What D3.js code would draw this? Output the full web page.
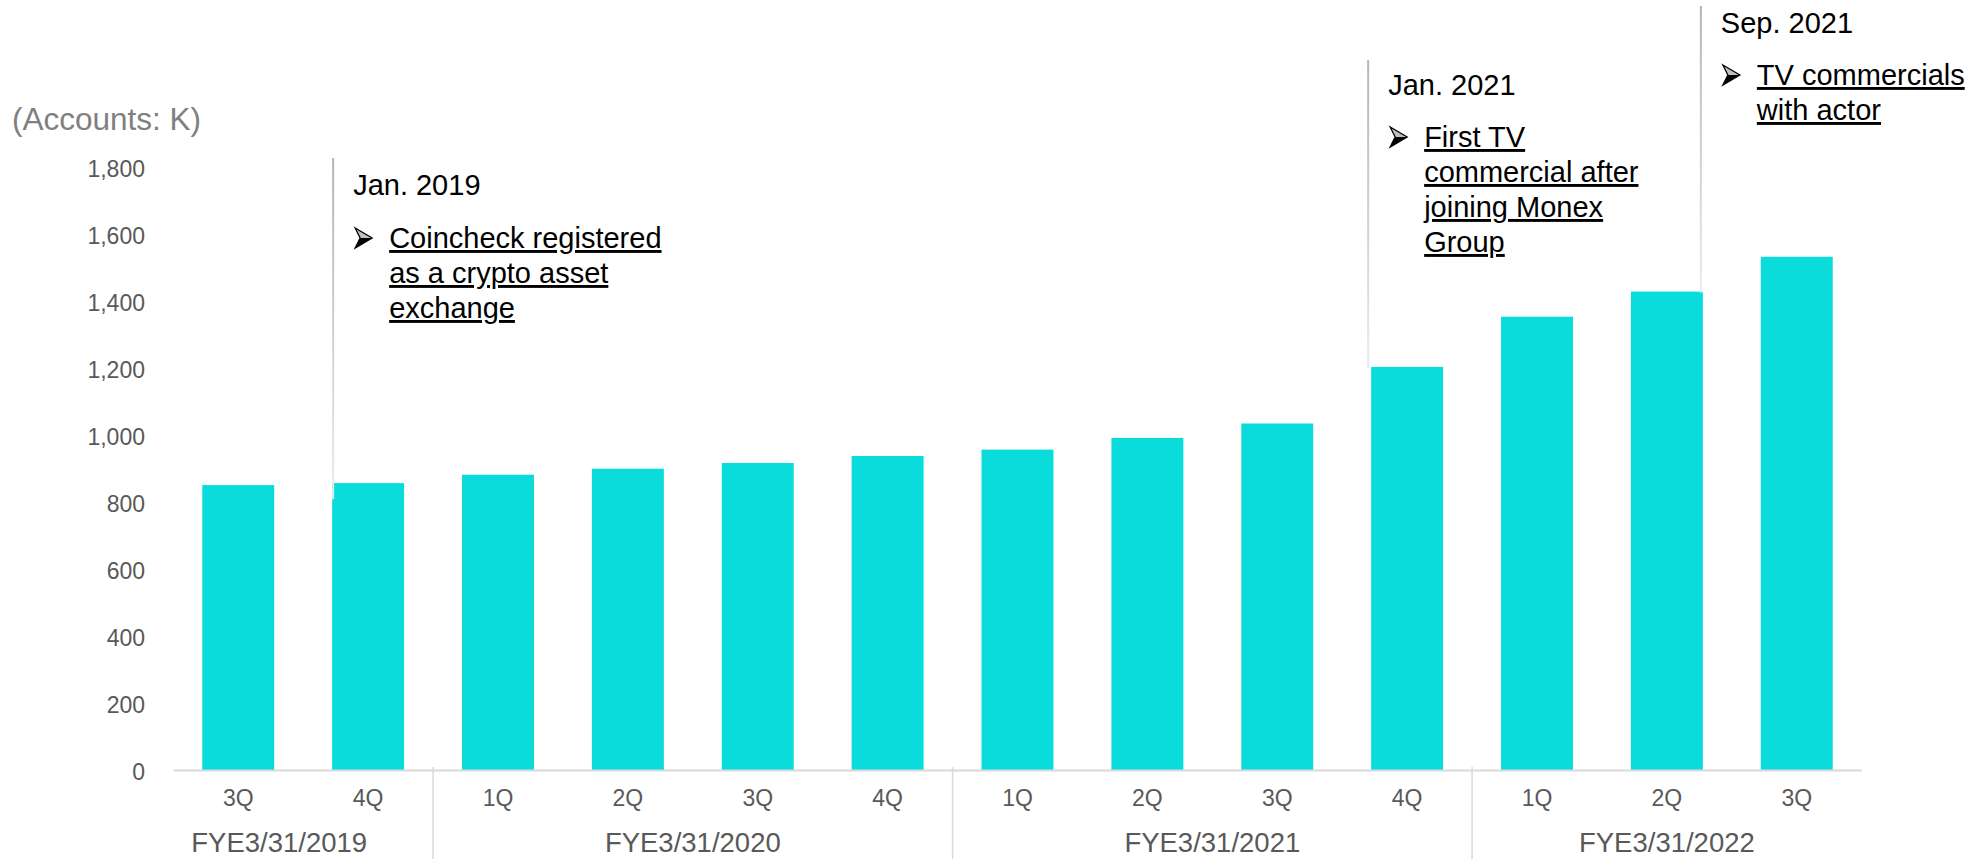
<!DOCTYPE html>
<html>
<head>
<meta charset="utf-8">
<script src="https://cdn.jsdelivr.net/npm/d3@7/dist/d3.min.js"></script>
<style>
  html, body { margin: 0; padding: 0; background: #ffffff; }
  svg { display: block; }
  text { font-family: "Liberation Sans", Arial, sans-serif; }
</style>
</head>
<body>
<svg id="chart" width="1980" height="859"></svg>
<script>
// ---------- data ----------
const categories = ["3Q","4Q","1Q","2Q","3Q","4Q","1Q","2Q","3Q","4Q","1Q","2Q","3Q"];
const accounts   = [851, 857, 882, 900, 917, 938, 957, 992, 1035, 1204, 1354, 1429, 1533];
const fiscalYears = ["FYE3/31/2019","FYE3/31/2020","FYE3/31/2021","FYE3/31/2022"];
const fiscalYearSizes = [2, 4, 4, 3];
const yTicks = [0, 200, 400, 600, 800, 1000, 1200, 1400, 1600, 1800];
const unitLabel = "(Accounts: K)";
const eventDates = ["Jan. 2019", "Jan. 2021", "Sep. 2021"];
const eventTexts = [
  ["Coincheck registered", "as a crypto asset", "exchange"],
  ["First TV", "commercial after", "joining Monex", "Group"],
  ["TV commercials", "with actor"]
];
const eventBar = [1, 9, 11];      // index of the quarter each event refers to

// ---------- layout ----------
const W = 1980, H = 859;
const x0 = 173.3, x1 = 1861.7, yBase = 770, yTop = 167.4;
const barColor = "#0adcdc";
const gray = "#595959";

const svg = d3.select("#chart");
const keys = categories.map((c, i) => i);

const x = d3.scaleBand().domain(keys).range([x0, x1])
  .paddingInner(0.446).paddingOuter(0.223);
const y = d3.scaleLinear().domain([0, 1800]).range([yBase, yTop]);

// gradient for annotation lines
const defs = svg.append("defs");
const grad = defs.append("linearGradient").attr("id", "lineGrad")
  .attr("x1", 0).attr("y1", 0).attr("x2", 0).attr("y2", 1);
grad.append("stop").attr("offset", "0%").attr("stop-color", "#b5b5b5");
grad.append("stop").attr("offset", "100%").attr("stop-color", "#e6ecf3");

// unit label
svg.append("text").attr("x", 12).attr("y", 130)
  .attr("font-size", 31.5).attr("fill", "#808080").text(unitLabel);

// y axis (labels only)
const yAxis = svg.append("g").attr("transform", `translate(145,0)`)
  .call(d3.axisLeft(y).tickValues(yTicks).tickFormat(d3.format(",")).tickSize(0).tickPadding(0));
yAxis.select(".domain").remove();
yAxis.selectAll("text").attr("font-size", 23).attr("fill", gray)
  .attr("dy", "0.4em").style("font-family", '"Liberation Sans", Arial, sans-serif');

// bars
svg.append("g").selectAll("rect").data(accounts).join("rect")
  .attr("x", (d, i) => x(i))
  .attr("y", d => y(d))
  .attr("width", x.bandwidth())
  .attr("height", d => y(0) - y(d))
  .attr("fill", barColor);

// x axis
const xAxis = svg.append("g").attr("transform", `translate(0,${yBase})`)
  .call(d3.axisBottom(x).tickFormat(i => categories[i]).tickSize(0).tickSizeOuter(0).tickPadding(20));
xAxis.select(".domain").attr("stroke", "#d9d9d9").attr("stroke-width", 2);
xAxis.selectAll("text").attr("font-size", 23).attr("fill", gray)
  .style("font-family", '"Liberation Sans", Arial, sans-serif');

// fiscal year groups
let start = 0;
const step = x.step();
fiscalYears.forEach((fy, g) => {
  const n = fiscalYearSizes[g];
  const gx0 = x0 + start * step;
  const gx1 = x0 + (start + n) * step;
  if (g > 0) {
    svg.append("line").attr("x1", gx0).attr("x2", gx0)
      .attr("y1", yBase - 3).attr("y2", H)
      .attr("stroke", "#d9d9d9").attr("stroke-width", 1.5);
  }
  const cx = (gx0 + gx1) / 2 + (g === 0 ? -24 : 0);
  svg.append("text").attr("x", cx).attr("y", 852)
    .attr("text-anchor", "middle").attr("font-size", 27.5).attr("fill", gray).text(fy);
  start += n;
});

// bullet arrowhead (3D style)
function bullet(g, bx, by) {
  // bx, by: left x, baseline y; approx 17 x 20 px
  const p = g.append("g").attr("transform", `translate(${bx},${by - 20})`);
  p.append("path").attr("d", "M0,0 L17,10 L0,20 L5,10 Z")
    .attr("fill", "#ffffff").attr("stroke", "#000").attr("stroke-width", 1.3)
    .attr("stroke-linejoin", "miter");
  p.append("path").attr("d", "M5,10 L17,10 L0,20 Z").attr("fill", "#000");
  p.append("path").attr("d", "M0,0 L17,10 L5,10 Z").attr("fill", "#000").attr("opacity", 0.25);
}

// annotations
const annLayout = [
  { frac: 0.0,  dx: 1,  top: 158, bottomPad: 16, dateY: 195, textY: 248 },
  { frac: 0.0,  dx: -3, top: 60,  bottomPad: 1,  dateY: 95,  textY: 147 },
  { frac: 1.0,  dx: -2, top: 6,   bottomPad: 1,  dateY: 33,  textY: 85 }
];
const lineH = 35;
eventDates.forEach((date, k) => {
  const L = annLayout[k];
  const bi = eventBar[k];
  const lx = x(bi) + L.frac * x.bandwidth() + L.dx;
  const ly2 = y(accounts[bi]) + L.bottomPad;
  svg.append("rect").attr("x", lx - 1).attr("y", L.top)
    .attr("width", 2).attr("height", ly2 - L.top).attr("fill", "url(#lineGrad)");
  svg.append("text").attr("x", lx + 20).attr("y", L.dateY)
    .attr("font-size", 29).attr("fill", "#000").text(date);
  bullet(svg, lx + 22, L.textY);
  eventTexts[k].forEach((t, j) => {
    svg.append("text").attr("x", lx + 56).attr("y", L.textY + j * lineH)
      .attr("font-size", 29).attr("fill", "#000")
      .style("text-decoration", "underline").text(t);
  });
});
</script>
</body>
</html>
